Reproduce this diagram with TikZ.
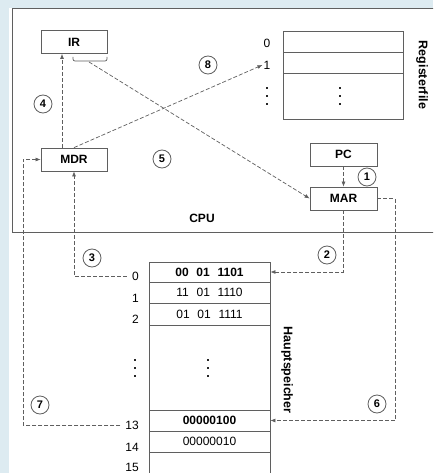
\documentclass[tikz,border=0pt]{standalone}
\usepackage{fontspec}
\setmainfont{Liberation Sans}
\usepackage{xcolor}
\usepackage{tikz}
\usetikzlibrary{arrows.meta}
\definecolor{pageblue}{RGB}{221,235,241}
\definecolor{linegray}{RGB}{95,95,95}
\newcommand{\dotcol}[2]{\foreach \k in {-8,0,8} {\fill[black!85] (#1-1.3,#2+\k-1.3) rectangle ++(2.6,2.6);}}
\newcommand{\grp}{\hspace{0.65em}}
\tikzstyle{regbox} = [draw=linegray, line width=0.8pt, minimum width=66pt, minimum height=23pt, inner sep=0pt, text centered, font=\fontsize{12}{14}\selectfont\bfseries]
\tikzstyle{cell} = [draw=linegray, line width=0.8pt, minimum width=121pt, inner sep=0pt, text centered, font=\fontsize{12}{14}\selectfont]
\tikzstyle{regcell} = [draw=linegray, line width=0.8pt, minimum width=120pt, inner sep=0pt]
\tikzstyle{addr} = [inner sep=1pt, font=\fontsize{12}{14}\selectfont]
\tikzstyle{title} = [inner sep=0pt, rotate=-90, font=\fontsize{12.5}{14}\selectfont\bfseries]
\tikzstyle{stepno} = [draw=linegray, fill=white, line width=0.8pt, circle, minimum size=18pt, inner sep=0pt, font=\fontsize{11}{13}\selectfont\bfseries]
\tikzstyle{flow} = [draw=linegray, line width=0.7pt, dash pattern=on 4pt off 2pt, -{Latex[length=5pt,width=4pt]}]

\begin{document}
\begin{tikzpicture}[x=1pt, y=-1pt]

\clip (0,0) rectangle (433,473);
\fill[pageblue] (0,0) rectangle (433,473);
\fill[white] (9,8) rectangle (433,473);
\draw[linegray, line width=0.8pt] (440,8) -- (12,8) -- (12,232) -- (440,232);

\node[regbox] (IR) at (74,42) {IR};
\node[regbox] (MDR) at (74,159.5) {MDR};
\node[regbox, minimum width=67pt] (PC) at (343.5,154.5) {PC};
\node[regbox, minimum width=67pt] (MAR) at (343.5,198.5) {MAR};
\node[inner sep=0pt, font=\fontsize{12}{14}\selectfont\bfseries] (cpu) at (202,218) {CPU};

\node[regcell, minimum height=21pt] (r0) at (343,41.5) {};
\node[regcell, minimum height=21pt] (r1) at (343,62.5) {};
\node[regcell, minimum height=46pt] (r2) at (343,96) {};
\dotcol{340}{96}
\node[addr] (rl0) at (267,43) {0};
\node[addr] (rl1) at (267,65) {1};
\dotcol{267}{96}
\node[title] (regfile) at (422,75) {Registerfile};

\draw[linegray, line width=0.7pt, rounded corners=2pt] (73,57) -- (73,61) -- (107,61) -- (107,57);
\coordinate (irtail) at (89,62);

\node[cell, minimum height=20pt, font=\fontsize{12}{14}\selectfont\bfseries] (m0) at (209.5,272) {00\grp01\grp1101};
\node[cell, minimum height=21pt] (m1) at (209.5,292.5) {11\grp01\grp1110};
\node[cell, minimum height=22pt] (m2) at (209.5,314) {01\grp01\grp1111};
\node[cell, minimum height=85pt] (mdots) at (209.5,367.5) {};
\dotcol{208}{368}
\node[cell, minimum height=21pt, font=\fontsize{12}{14}\selectfont\bfseries] (m13) at (209.5,420.5) {00000100};
\node[cell, minimum height=21pt] (m14) at (209.5,441.5) {00000010};
\node[cell, minimum height=26pt] (m15) at (209.5,465) {};
\node[addr, anchor=east] (a0) at (140,276) {0};
\node[addr, anchor=east] (a1) at (140,298) {1};
\node[addr, anchor=east] (a2) at (140,319) {2};
\dotcol{135}{368}
\node[addr, anchor=east] (a13) at (140,425) {13};
\node[addr, anchor=east] (a14) at (140,447) {14};
\node[addr, anchor=east] (a15) at (140,467) {15};
\node[title] (hsp) at (287,370) {Hauptspeicher};

\coordinate (c6) at (395,198.5);
\coordinate (c7) at (23,425);

\draw[flow] (PC.south) -- (MAR.north);
\draw[flow] (MAR.south) |- (m0.east);
\draw[flow] ([xshift=-4pt]a0.west) -| (MDR.south);
\draw[flow] ([xshift=-12pt]MDR.north) -- ([xshift=-12pt]IR.south);
\draw[flow] (irtail) -- (MAR.west);
\draw[flow] (MAR.east) -- (c6) |- (m13.east);
\draw[flow] ([xshift=-4pt]a13.west) -- (c7) |- (MDR.west);
\draw[flow] (MDR.north) -- (rl1.west);

\node[stepno] (s1) at (367,177) {1};
\node[stepno] (s2) at (327,255) {2};
\node[stepno] (s3) at (92,258) {3};
\node[stepno] (s4) at (43,104) {4};
\node[stepno] (s5) at (162,159) {5};
\node[stepno] (s6) at (377,404) {6};
\node[stepno] (s7) at (40,405) {7};
\node[stepno] (s8) at (208,65) {8};

\end{tikzpicture}
\end{document}
